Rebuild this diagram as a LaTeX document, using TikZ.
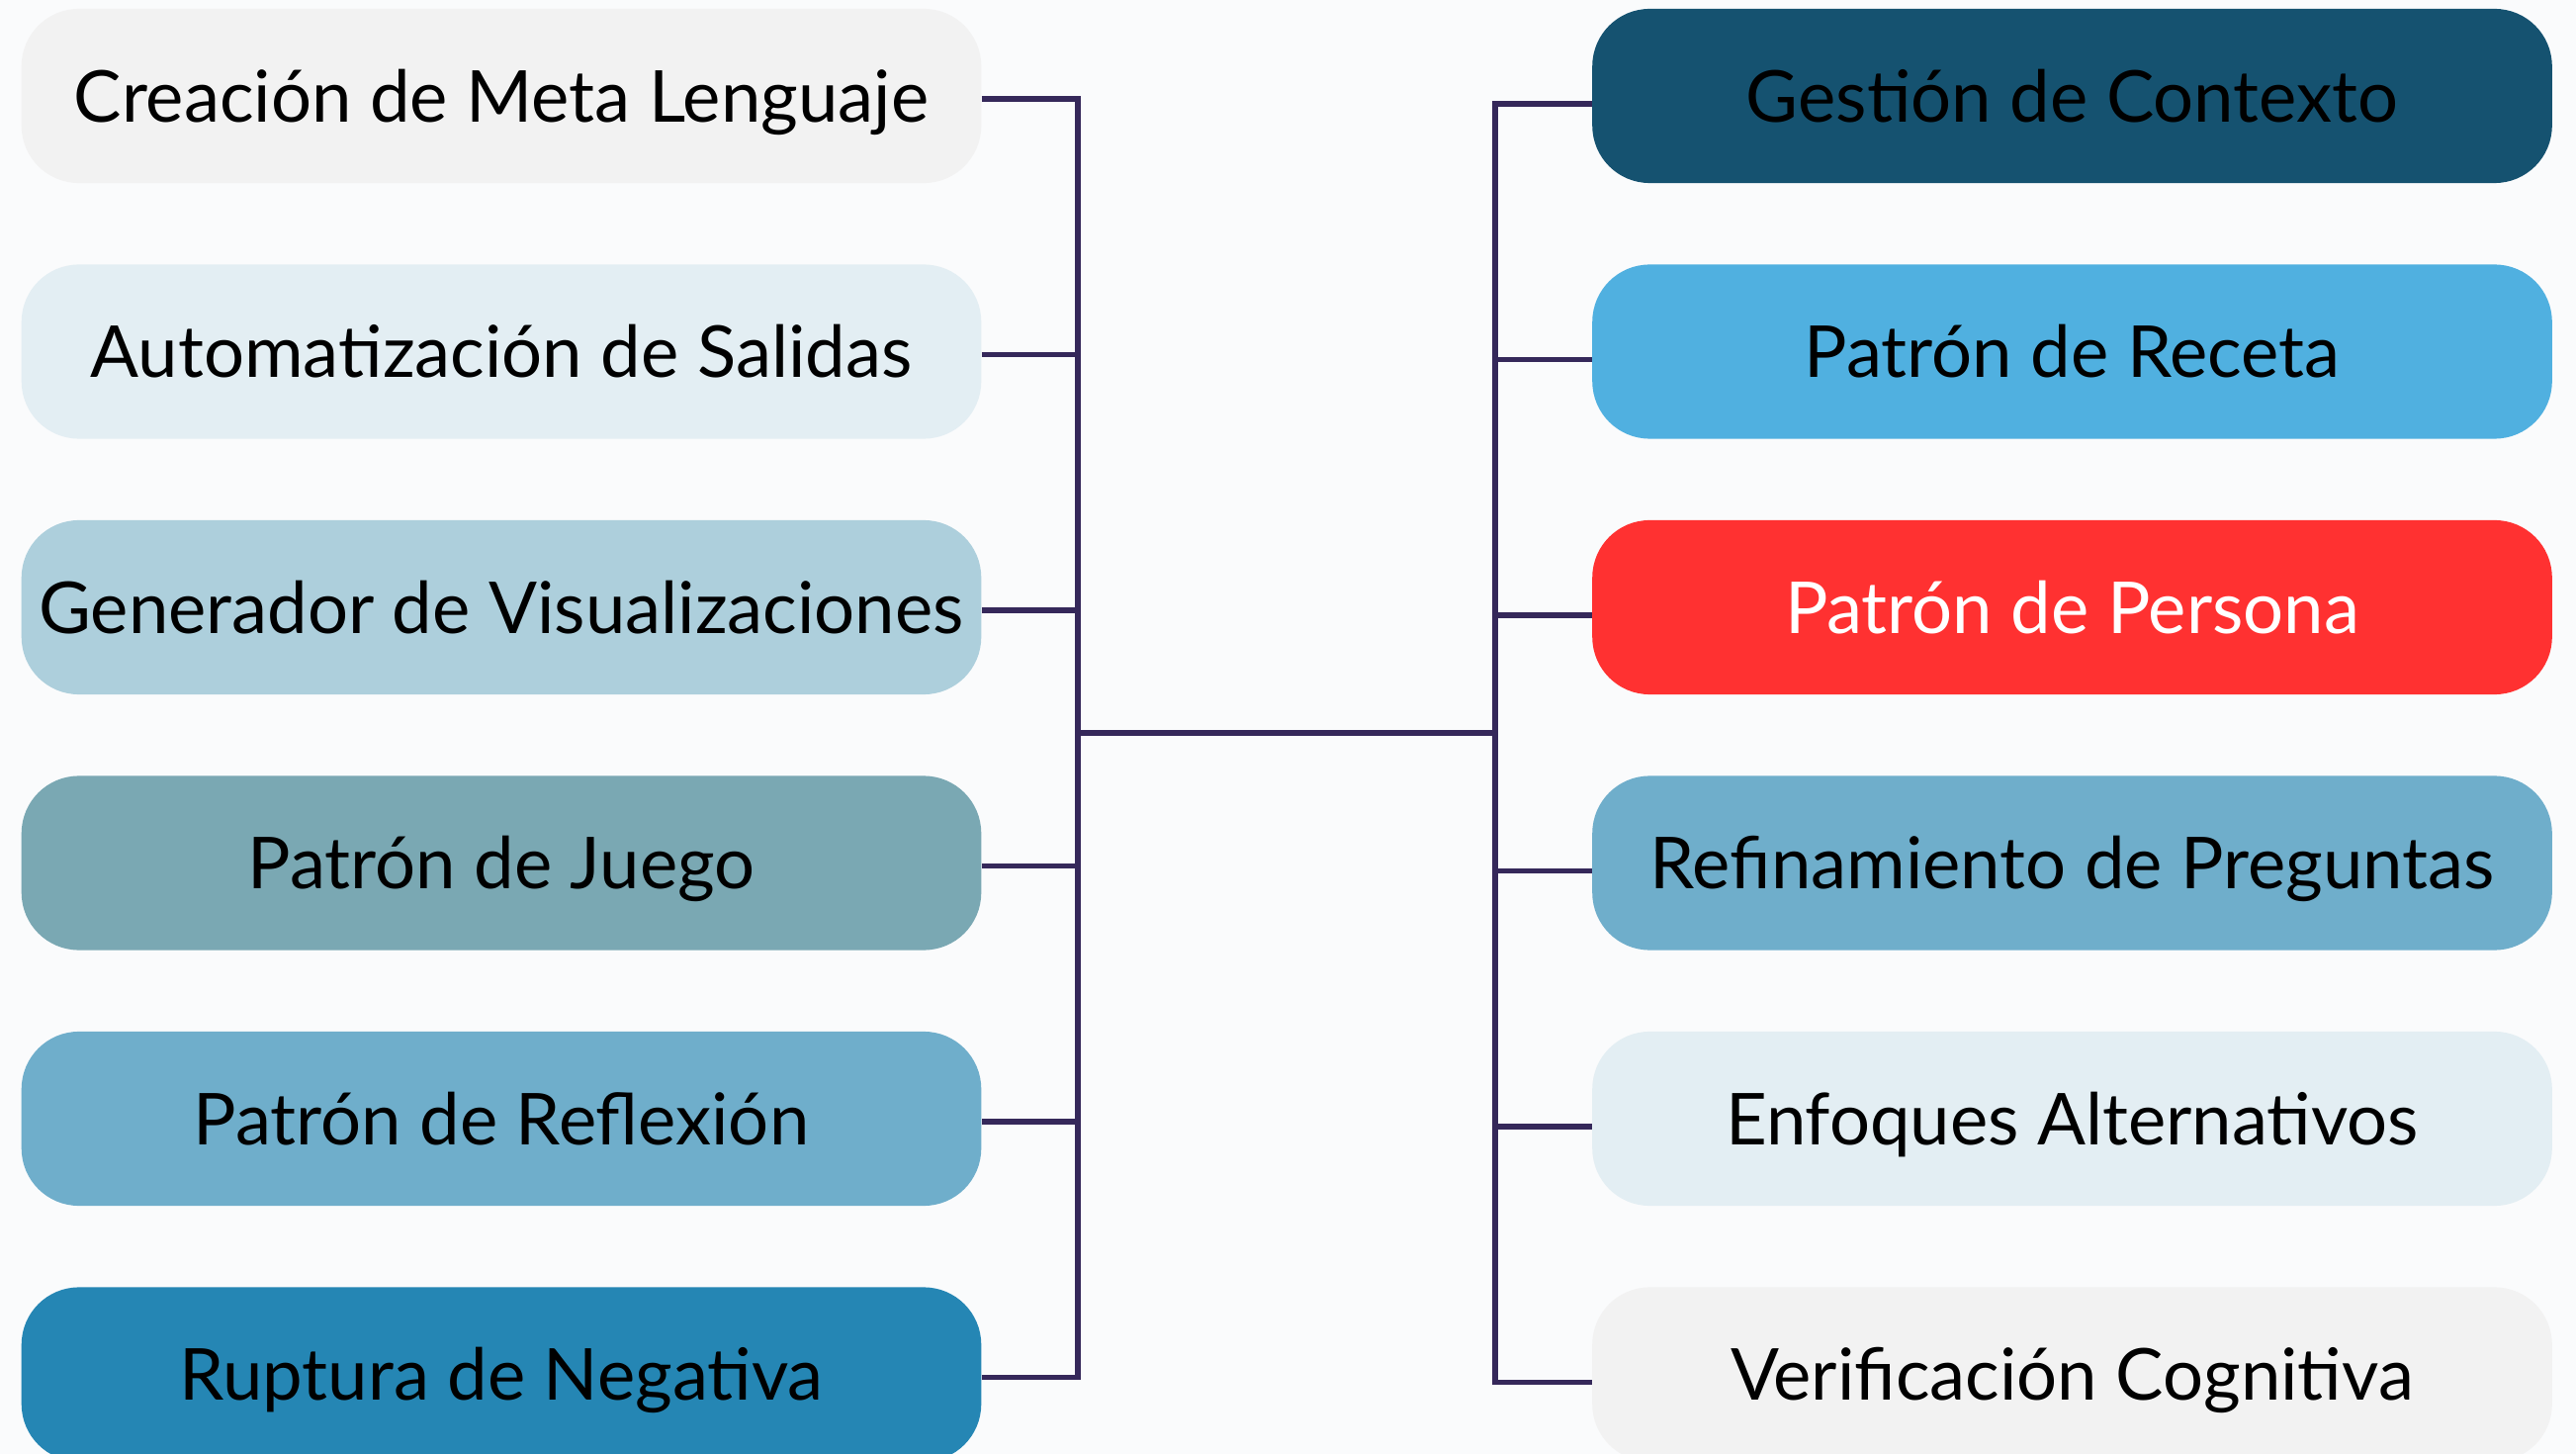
\documentclass[tikz,border=0pt]{standalone}
\usepackage{fontspec}
\setmainfont{Lato}
\usepackage{tikz}
\usetikzlibrary{positioning}
\definecolor{pagebg}{HTML}{FAFBFC}
\definecolor{linkpurple}{HTML}{35285A}
\definecolor{palegray}{HTML}{F2F2F2}
\definecolor{paleblue}{HTML}{E3EEF3}
\definecolor{softblue}{HTML}{ADCFDC}
\definecolor{slateteal}{HTML}{7AA8B3}
\definecolor{midblue}{HTML}{6FAECB}
\definecolor{deepblue}{HTML}{2586B4}
\definecolor{darkteal}{HTML}{155270}
\definecolor{skyblue}{HTML}{50B0E0}
\definecolor{brightred}{HTML}{FF3131}
\tikzset{
  pill/.style={rounded corners=0.58cm, minimum width=9.7cm, minimum height=1.76cm,
    inner sep=0pt, text height=14.9pt, text depth=0pt, text=black,
    font=\fontsize{20.6}{25}\selectfont},
  link/.style={draw=linkpurple, line width=1.45pt}
}

\begin{document}
\begin{tikzpicture}[x=0.01cm, y=-0.01cm]
\fill[pagebg] (0,0) rectangle (2605,1470);
\useasboundingbox (0,0) rectangle (2605,1470);

% left column
\node[pill, fill=palegray] (metalenguaje) at (507,97) {Creación de Meta Lenguaje};
\node[pill, fill=paleblue] (salidas) at (507,355.5) {Automatización de Salidas};
\node[pill, fill=softblue] (visualizaciones) at (507,614) {Generador de Visualizaciones};
\node[pill, fill=slateteal] (juego) at (507,872.5) {Patrón de Juego};
\node[pill, fill=midblue] (reflexion) at (507,1131) {Patrón de Reflexión};
\node[pill, fill=deepblue] (negativa) at (507,1389.5) {Ruptura de Negativa};

% right column
\node[pill, fill=darkteal] (contexto) at (2095.5,97) {Gestión de Contexto};
\node[pill, fill=skyblue] (receta) at (2095.5,355.5) {Patrón de Receta};
\node[pill, fill=brightred, text=white] (persona) at (2095.5,614) {Patrón de Persona};
\node[pill, fill=midblue] (preguntas) at (2095.5,872.5) {Refinamiento de Preguntas};
\node[pill, fill=paleblue] (enfoques) at (2095.5,1131) {Enfoques Alternativos};
\node[pill, fill=palegray] (verificacion) at (2095.5,1389.5) {Verificación Cognitiva};

\coordinate (hubl) at (1090,741);
\coordinate (hubr) at (1512,741);

\draw[link] (hubl) -- (hubr);
\foreach \n in {metalenguaje,salidas,visualizaciones,juego,reflexion,negativa}
  \draw[link] ([yshift=-0.03cm]\n.east) -| (hubl);
\foreach \n in {contexto,receta,persona,preguntas,enfoques,verificacion}
  \draw[link] ([yshift=-0.08cm]\n.west) -| (hubr);
\end{tikzpicture}
\end{document}
